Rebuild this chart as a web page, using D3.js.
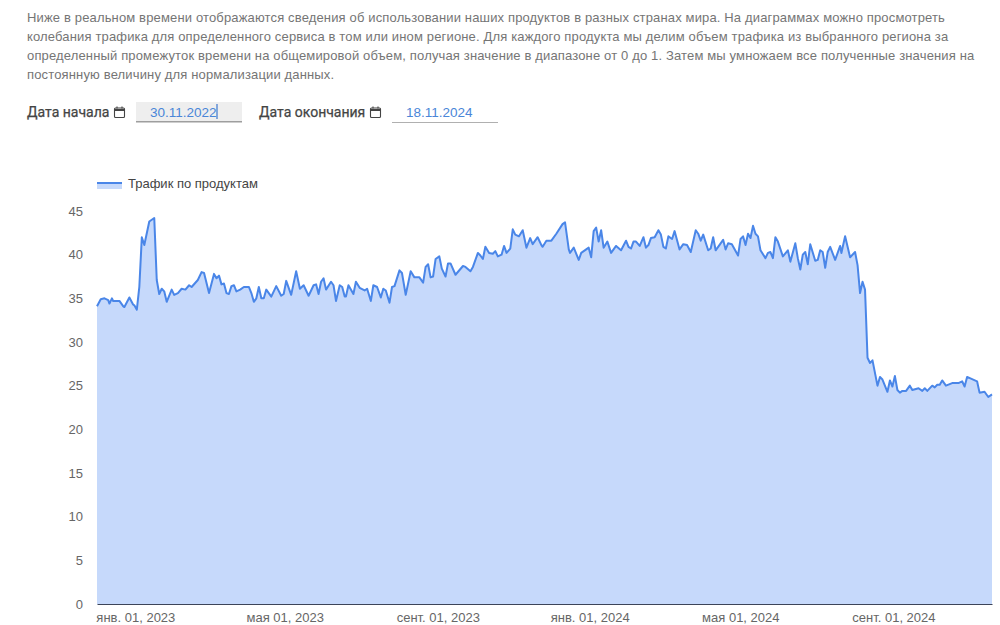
<!DOCTYPE html>
<html lang="ru"><head><meta charset="utf-8">
<script src="https://cdn.jsdelivr.net/npm/d3@7/dist/d3.min.js"></script>
<style>
html,body{margin:0;padding:0;background:#fff;overflow:hidden}
svg{display:block}
text{font-family:"Liberation Sans",Arial,sans-serif}
</style></head><body>
<svg id="c" width="1000" height="625"></svg>
<script>
const introLines = [
 "Ниже в реальном времени отображаются сведения об использовании наших продуктов в разных странах мира. На диаграммах можно просмотреть",
 "колебания трафика для определенного сервиса в том или ином регионе. Для каждого продукта мы делим объем трафика из выбранного региона за",
 "определенный промежуток времени на общемировой объем, получая значение в диапазоне от 0 до 1. Затем мы умножаем все полученные значения на",
 "постоянную величину для нормализации данных."
];
const startLabel = "Дата начала", endLabel = "Дата окончания";
const startValue = "30.11.2022", endValue = "18.11.2024";
const seriesName = "Трафик по продуктам";
const yTicks = [0,5,10,15,20,25,30,35,40,45];
const xTickDates = ["2023-01-01","2023-05-01","2023-09-01","2024-01-01","2024-05-01","2024-09-01"];
const xTickLabels = ["янв. 01, 2023","мая 01, 2023","сент. 01, 2023","янв. 01, 2024","мая 01, 2024","сент. 01, 2024"];
const firstDate = "2022-11-30", lastDate = "2024-11-18";
// days since firstDate
const dayOffsets = [0,3,6,9,10,12,13,18,21,22,26,29,30,32,34,36,38,42,46,48,50,52,54,56,60,62,65,68,71,74,76,81,84,86,90,94,96,98,100,102,104,106,108,110,112,115,118,122,124,126,128,130,132,134,136,140,144,148,150,152,156,160,163,166,170,174,176,178,180,182,184,188,190,192,195,197,199,200,202,206,208,211,215,217,220,222,225,228,230,232,235,237,239,
243,245,248,252,255,259,262,264,266,268,270,272,275,277,280,282,284,288,294,296,300,302,306,308,310,312,315,318,320,322,325,327,329,332,334,336,339,342,345,348,350,354,357,358,361,365,369,374,376,379,380,383,387,389,395,397,399,401,403,405,407,410,413,417,421,425,427,429,431,433,436,439,441,443,445,448,451,453,455,457,459,462,464,468,
471,474,477,481,483,485,487,491,493,495,497,503,505,507,510,515,517,519,521,523,525,527,529,531,533,537,539,541,543,545,547,551,555,557,561,563,565,567,569,571,573,577,579,581,583,585,587,589,593,597,598,601,605,609,611,613,615,617,619,621,623,627,629,631,635,637,639,641,643,645,647,650,653,655,660,663,665,667,671,673,675,677,679,682,687,692,695,697,699,707,709,713,716,719];
const trafficValues = [34.1,34.9,35.0,34.8,34.4,35.0,34.7,34.7,34.1,34.0,35.1,34.3,34.2,33.7,36.3,42.0,41.1,43.8,44.2,37.1,35.5,36.1,35.8,34.6,36.0,35.4,35.6,36.1,36.0,36.5,36.3,37.1,38.0,37.9,35.6,37.8,37.3,37.6,36.6,36.7,35.6,35.5,36.4,36.5,35.8,36.0,36.3,36.3,35.6,34.6,35.0,36.3,35.0,35.0,36.0,35.2,36.4,35.3,35.5,37.0,35.4,38.1,36.1,36.5,35.3,36.5,36.6,35.5,36.9,37.3,36.0,36.9,36.5,34.7,36.5,36.3,35.2,35.2,36.5,35.5,36.9,36.2,35.9,36.1,34.7,36.5,36.3,35.1,36.1,35.9,34.5,36.3,36.4,
38.2,37.9,35.4,38.1,37.4,37.4,36.8,38.6,38.9,37.4,37.5,39.5,39.8,38.4,37.5,39.0,39.0,37.7,38.7,38.6,38.1,38.6,40.2,39.9,39.5,40.9,40.2,40.1,40.4,39.8,40.0,41.0,40.2,40.7,42.9,42.3,42.1,42.8,40.8,41.9,41.2,42.0,41.1,40.9,41.6,41.6,42.4,43.5,43.7,40.6,40.2,40.8,39.4,40.2,40.8,39.7,42.7,43.1,41.5,42.8,40.8,41.5,40.2,41.0,40.5,41.6,40.9,40.7,41.5,41.5,41.0,42.0,40.8,41.1,41.9,42.0,42.8,42.3,40.9,40.7,42.1,41.8,42.7,40.6,
41.2,41.1,40.3,42.8,42.4,41.6,42.3,40.5,40.7,42.0,40.5,41.7,40.6,41.3,41.2,39.9,41.8,42.1,41.1,42.4,41.9,43.3,42.4,42.1,40.5,39.6,40.2,40.3,39.6,42.0,41.5,39.8,40.5,39.2,41.3,39.6,38.3,40.0,40.3,38.9,41.2,39.3,39.4,40.5,40.3,38.5,40.3,40.9,39.4,41.0,40.2,42.1,39.7,40.3,38.8,35.6,36.9,36.0,28.2,27.6,27.9,25.0,26.0,25.7,24.3,25.6,24.9,26.1,24.5,24.2,24.4,24.4,25.0,24.5,24.7,24.4,24.7,24.4,25.0,24.8,25.1,25.1,25.6,25.0,25.3,25.3,25.5,24.9,26.0,25.5,24.2,24.3,23.7,24.0];

const svg = d3.select("#c");
const t0 = d3.isoParse(firstDate+"T00:00:00Z"), t1 = d3.isoParse(lastDate+"T00:00:00Z");
const x = d3.scaleUtc().domain([t0,t1]).range([97,992]);
const y = d3.scaleLinear().domain([0,45]).range([604,211]);
const data = dayOffsets.map((d,i)=>({t:d3.utcDay.offset(t0,d),v:trafficValues[i]}));

// intro
svg.append("g").selectAll("text").data(introLines).join("text")
  .attr("x",27).attr("y",(d,i)=>22+i*19)
  .attr("font-size",13).attr("letter-spacing",0.15).attr("fill","#757575").text(d=>d);

// date controls
function control(labelX,label,iconX,boxX,boxW,valueX,value,active){
  svg.append("text").attr("x",labelX).attr("y",117).attr("font-size",14)
    .attr("fill","#444").attr("stroke","#444").attr("stroke-width",0.25)
    .style("font-family","Roboto").style("font-weight",400).text(label);
  const g = svg.append("g").attr("fill","none").attr("stroke","#444").attr("stroke-width",1.1);
  g.append("rect").attr("x",iconX+.5).attr("y",108).attr("width",10).attr("height",9.5).attr("rx",1);
  g.append("path").attr("stroke-width",2).attr("d",`M${iconX+.5} 110H${iconX+10.5}`);
  g.append("path").attr("d",`M${iconX+3} 106.5V108.5M${iconX+8} 106.5V108.5`);
  if(active) svg.append("rect").attr("x",boxX).attr("y",102).attr("width",boxW).attr("height",20).attr("fill","#eeeeee");
  svg.append("rect").attr("x",boxX).attr("y",active?121:122).attr("width",boxW).attr("height",active?1.5:1).attr("fill",active?"#9e9e9e":"#b0b0b0");
  svg.append("text").attr("x",valueX).attr("y",117).attr("font-size",13.5)
    .attr("fill","#4a86d8").text(value);
}
control(27,startLabel,114,136,106,150,startValue,true);
control(259,endLabel,370,392,106,406,endValue,false);
svg.append("rect").attr("x",216.5).attr("y",104).attr("width",1).attr("height",15).attr("fill","#1a5fc8");

// legend
svg.append("rect").attr("x",97).attr("y",182).attr("width",25).attr("height",7).attr("fill","#c6d9fb");
svg.append("rect").attr("x",97).attr("y",182).attr("width",25).attr("height",2).attr("fill","#4a86e8");
svg.append("text").attr("x",128).attr("y",188).attr("font-size",13).attr("fill","#444").text(seriesName);

// marks
svg.append("path").datum(data).attr("fill","#c6d9fb")
  .attr("d",d3.area().x(d=>x(d.t)).y0(y(0)).y1(d=>y(d.v)));
svg.append("path").datum(data).attr("fill","none").attr("stroke","#4a86e8").attr("stroke-width",2)
  .attr("stroke-linejoin","round")
  .attr("d",d3.line().x(d=>x(d.t)).y(d=>y(d.v)));

// axes
const yA = svg.append("g").attr("transform","translate(97,0)")
  .call(d3.axisLeft(y).tickValues(yTicks).tickSize(0).tickPadding(14));
yA.select(".domain").remove();
yA.selectAll("text").attr("font-size",13).attr("fill","#666").style("font-family",'"Liberation Sans"');
const xA = svg.append("g").attr("transform","translate(0,604)")
  .call(d3.axisBottom(x).tickValues(xTickDates.map(s=>d3.isoParse(s+"T00:00:00Z"))).tickSize(0).tickPadding(9)
    .tickFormat((d,i)=>xTickLabels[i]));
xA.select(".domain").attr("stroke","#3c4458").attr("stroke-width",1.2);
xA.selectAll("text").attr("font-size",13).attr("fill","#666").attr("dx",-1.5).style("font-family",'"Liberation Sans"');
</script>
</body></html>
